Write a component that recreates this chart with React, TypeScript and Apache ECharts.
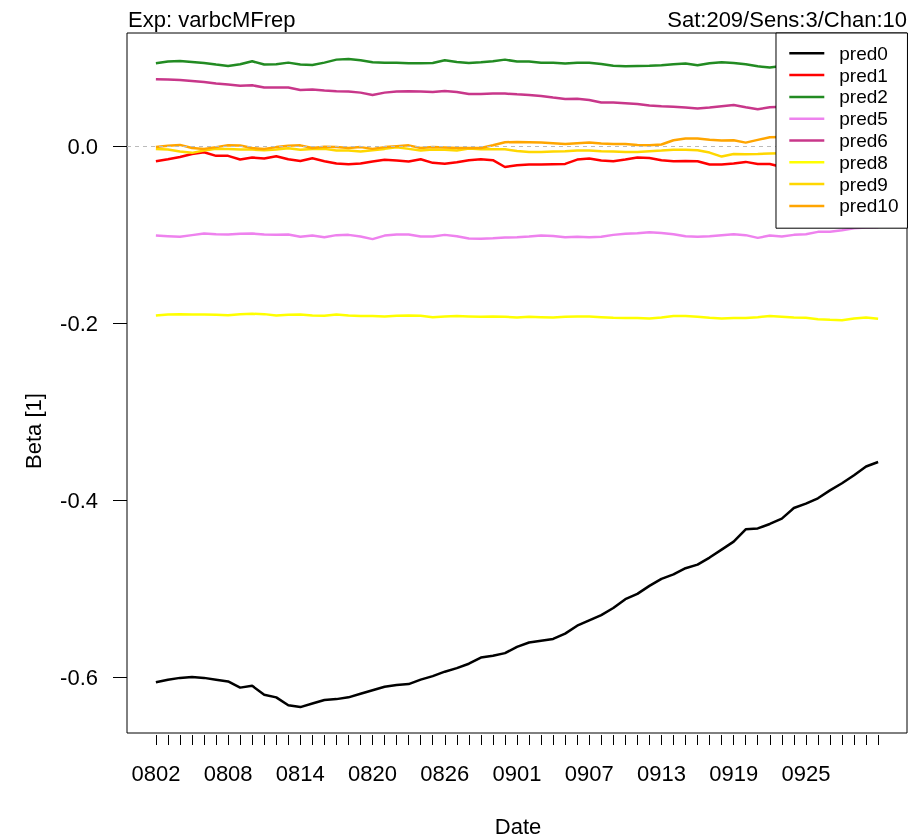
import React, { useEffect, useRef } from "react";
import * as echarts from "echarts";

// Dates (one point per day)
const dates = [
  "0802","0803","0804","0805","0806","0807","0808","0809","0810","0811",
  "0812","0813","0814","0815","0816","0817","0818","0819","0820","0821",
  "0822","0823","0824","0825","0826","0827","0828","0829","0830","0831",
  "0901","0902","0903","0904","0905","0906","0907","0908","0909","0910",
  "0911","0912","0913","0914","0915","0916","0917","0918","0919","0920",
  "0921","0922","0923","0924","0925","0926","0927","0928","0929","0930",
  "1001",
];
const xLabelIdx = [0, 6, 12, 18, 24, 30, 36, 42, 48, 54];
const yTicks = [-0.6, -0.4, -0.2, 0.0];
const yTickLabels = ["-0.6", "-0.4", "-0.2", "0.0"];

const pred0 = [
  -0.606, -0.603, -0.601, -0.600, -0.601, -0.603, -0.605, -0.612, -0.610, -0.620,
  -0.623, -0.632, -0.634, -0.630, -0.626, -0.625, -0.623, -0.619, -0.615, -0.611,
  -0.609, -0.608, -0.603, -0.599, -0.594, -0.590, -0.585, -0.578, -0.576, -0.573,
  -0.566, -0.561, -0.559, -0.557, -0.551, -0.542, -0.536, -0.530, -0.522, -0.512,
  -0.506, -0.497, -0.489, -0.484, -0.477, -0.473, -0.465, -0.456, -0.447, -0.433,
  -0.432, -0.427, -0.421, -0.409, -0.404, -0.398, -0.389, -0.381, -0.372, -0.362,
  -0.357,
];
const pred1 = [
  -0.0169, -0.0147, -0.0121, -0.0087, -0.0068, -0.0109, -0.0109, -0.015, -0.0128, -0.0139,
  -0.0113, -0.0147, -0.0166, -0.0136, -0.0169, -0.0196, -0.0203, -0.0196, -0.0173, -0.0154,
  -0.0162, -0.0173, -0.0147, -0.0188, -0.0199, -0.0181, -0.0158, -0.0147, -0.0158, -0.0235,
  -0.0215, -0.0207, -0.0207, -0.0203, -0.02, -0.0151, -0.0139, -0.0162, -0.0169, -0.0151,
  -0.0128, -0.0132, -0.0158, -0.0169, -0.0166, -0.0169, -0.0207, -0.0207, -0.0196, -0.0177,
  -0.02, -0.02, -0.0234, -0.0225, -0.022, -0.0215, -0.021, -0.0222, -0.0218, -0.0212,
  -0.0215,
];
const pred2 = [
  0.0938, 0.0957, 0.0964, 0.0953, 0.0941, 0.0923, 0.0908, 0.0926, 0.096, 0.0923,
  0.0926, 0.0945, 0.0923, 0.0919, 0.0945, 0.0979, 0.0987, 0.0972, 0.0949, 0.0945,
  0.0945, 0.0938, 0.0938, 0.0941, 0.0972, 0.0953, 0.0941, 0.0949, 0.096, 0.0979,
  0.0957, 0.0957, 0.0945, 0.0945, 0.0934, 0.0945, 0.0945, 0.093, 0.0911, 0.0904,
  0.0908, 0.0911, 0.0915, 0.0926, 0.0934, 0.0915, 0.0938, 0.0949, 0.0941, 0.0926,
  0.0904, 0.0889, 0.0908, 0.0905, 0.091, 0.0902, 0.0895, 0.09, 0.0908, 0.0898,
  0.0902,
];
const pred5 = [
  -0.101, -0.1017, -0.1024, -0.1005, -0.0987, -0.0994, -0.0998, -0.099, -0.0987, -0.0998,
  -0.1002, -0.0998, -0.1024, -0.101, -0.1028, -0.1005, -0.1002, -0.102, -0.105, -0.101,
  -0.0998, -0.0998, -0.102, -0.102, -0.1002, -0.1017, -0.1043, -0.1047, -0.104, -0.1032,
  -0.1028, -0.102, -0.101, -0.1014, -0.1028, -0.1024, -0.1028, -0.1024, -0.1002, -0.099,
  -0.0983, -0.0972, -0.098, -0.0994, -0.1017, -0.1024, -0.1017, -0.1005, -0.0994, -0.1005,
  -0.1036, -0.101, -0.102, -0.1002, -0.0994, -0.0968, -0.0968, -0.095, -0.0927, -0.092,
  -0.0915,
];
const pred6 = [
  0.0757, 0.0753, 0.0749, 0.0738, 0.0727, 0.0708, 0.0697, 0.0685, 0.0689, 0.0663,
  0.0663, 0.0663, 0.0636, 0.064, 0.0629, 0.0621, 0.0618, 0.0606, 0.058, 0.0606,
  0.0618, 0.0621, 0.0618, 0.0614, 0.0625, 0.0614, 0.0591, 0.0591, 0.0595, 0.0595,
  0.0587, 0.058, 0.0568, 0.055, 0.0535, 0.0537, 0.0523, 0.0495, 0.0493, 0.0486,
  0.0478, 0.046, 0.0452, 0.0445, 0.0437, 0.0426, 0.0437, 0.0452, 0.0467, 0.0441,
  0.0418, 0.0441, 0.0445, 0.0448, 0.0452, 0.0446, 0.0443, 0.0449, 0.0455, 0.0451,
  0.0447,
];
const pred8 = [
  -0.1913, -0.1902, -0.1898, -0.1902, -0.1902, -0.1906, -0.191, -0.1898, -0.1894, -0.1898,
  -0.1913, -0.1906, -0.1902, -0.1913, -0.1917, -0.1902, -0.1913, -0.192, -0.192, -0.1924,
  -0.1917, -0.1913, -0.1917, -0.1932, -0.1924, -0.192, -0.1924, -0.1928, -0.1924, -0.1928,
  -0.1936, -0.1928, -0.1932, -0.1936, -0.1928, -0.1924, -0.1924, -0.1932, -0.194, -0.1943,
  -0.1943, -0.1947, -0.1936, -0.192, -0.192, -0.1928, -0.194, -0.1947, -0.1943, -0.1943,
  -0.1932, -0.192, -0.1928, -0.1936, -0.194, -0.1955, -0.1962, -0.1966, -0.1947, -0.1936,
  -0.1951,
];
const pred9 = [
  -0.003, -0.0038, -0.006, -0.0075, -0.0049, -0.003, -0.003, -0.0038, -0.0038, -0.0045,
  -0.0038, -0.0023, -0.0041, -0.003, -0.003, -0.0049, -0.0049, -0.006, -0.0045, -0.003,
  -0.0011, -0.003, -0.0049, -0.0038, -0.0041, -0.0049, -0.0026, -0.0034, -0.0034, -0.0034,
  -0.0053, -0.0064, -0.0064, -0.006, -0.0056, -0.0049, -0.0049, -0.0056, -0.006, -0.0064,
  -0.0064, -0.0056, -0.0049, -0.0041, -0.0041, -0.0045, -0.0072, -0.0117, -0.0087, -0.009,
  -0.0087, -0.0083, -0.0079, -0.0076, -0.0074, -0.0078, -0.0072, -0.007, -0.0073, -0.0068,
  -0.007,
];
const pred10 = [
  -0.001, 0.0005, 0.0015, -0.002, -0.003, -0.001, 0.001, 0.0008, -0.002, -0.003,
  -0.001, 0.0005, 0.001, -0.002, -0.0005, -0.001, -0.002, -0.001, -0.003, -0.001,
  0.0, 0.001, -0.002, -0.001, -0.0015, -0.002, -0.002, -0.0019, 0.0011, 0.0045,
  0.0049, 0.0045, 0.0041, 0.0034, 0.0026, 0.0034, 0.0041, 0.003, 0.0026, 0.0026,
  0.0015, 0.0011, 0.0019, 0.0068, 0.0087, 0.0087, 0.0072, 0.0064, 0.0068, 0.0041,
  0.0072, 0.0102, 0.0105, 0.0108, 0.0104, 0.011, 0.0106, 0.0101, 0.0107, 0.0103,
  0.0105,
];

const seriesNames = ["pred0", "pred1", "pred2", "pred5", "pred6", "pred8", "pred9", "pred10"];
const seriesColors = ["#000000", "#FF0000", "#228B22", "#EE82EE", "#C8378A", "#FFFF00", "#FFD700", "#FFA500"];
const seriesValues = [pred0, pred1, pred2, pred5, pred6, pred8, pred9, pred10];

const titleLeft = "Exp: varbcMFrep";
const titleRight = "Sat:209/Sens:3/Chan:10";
const xName = "Date";
const yName = "Beta [1]";

export default function App() {
  const ref = useRef<HTMLDivElement>(null);
  useEffect(() => {
    if (!ref.current) return;
    const chart = echarts.init(ref.current, null, { renderer: "svg" });
    const font = "'Liberation Sans', Arial, Helvetica, sans-serif";
    const series: any[] = seriesValues.map((vals, k) => {
      const s: any = {
        name: seriesNames[k],
        type: "line",
        data: vals.map((v, i) => [i, v]),
        symbol: "none",
        showSymbol: false,
        color: seriesColors[k],
        lineStyle: { width: 2.5, color: seriesColors[k] },
        silent: true,
        z: 3,
      };
      if (k === 0) {
        s.markLine = {
          silent: true,
          symbol: ["none", "none"],
          label: { show: false },
          lineStyle: { color: "#BBBBBB", type: [4, 4], width: 1 },
          data: [{ yAxis: 0 }],
        };
      }
      return s;
    });
    chart.setOption({
      animation: false,
      textStyle: { fontFamily: font },
      grid: {
        left: 127,
        top: 33,
        width: 780,
        height: 700,
        show: true,
        borderColor: "#000",
        borderWidth: 1,
        backgroundColor: "transparent",
      },
      xAxis: {
        type: "value",
        min: -2.4,
        max: 62.4,
        offset: 2,
        axisLine: { show: false, onZero: false },
        splitLine: { show: false },
        axisTick: {
          show: true,
          length: 10,
          lineStyle: { color: "#000", width: 1 },
          customValues: dates.map((_, i) => i),
        },
        axisLabel: {
          show: true,
          customValues: xLabelIdx,
          formatter: (v: number) => dates[Math.round(v)] ?? "",
          fontSize: 22,
          color: "#000",
          margin: 27,
          fontFamily: font,
        },
      },
      yAxis: {
        type: "value",
        min: -0.6633,
        max: 0.128,
        axisLine: { show: false, onZero: false },
        splitLine: { show: false },
        axisTick: {
          show: true,
          length: 14,
          lineStyle: { color: "#000", width: 1 },
          customValues: yTicks,
        },
        axisLabel: {
          show: true,
          customValues: yTicks,
          formatter: (v: number) => {
            const idx = yTicks.findIndex((t) => Math.abs(t - v) < 1e-9);
            return idx >= 0 ? yTickLabels[idx] : "";
          },
          fontSize: 22,
          color: "#000",
          margin: 29,
          fontFamily: font,
        },
      },
      legend: {
        data: seriesNames,
        orient: "vertical",
        left: 776,
        top: 33,
        icon: "rect",
        itemWidth: 35,
        itemHeight: 2.5,
        itemGap: 0,
        padding: [9.4, 9, 11.4, 13.3],
        backgroundColor: "#ffffff",
        borderColor: "#000",
        borderWidth: 1,
        borderRadius: 0,
        selectedMode: false,
        z: 10,
        textStyle: {
          fontSize: 19,
          color: "#000",
          fontFamily: font,
          lineHeight: 21.8,
          padding: [0, 0, 0, 10],
        },
      },
      graphic: [
        {
          type: "text",
          x: 128,
          y: 19,
          style: { text: titleLeft, fontSize: 22, fontFamily: font, fill: "#000", align: "left", verticalAlign: "middle" },
        },
        {
          type: "text",
          x: 907,
          y: 19,
          style: { text: titleRight, fontSize: 22, fontFamily: font, fill: "#000", align: "right", verticalAlign: "middle" },
        },
        {
          type: "text",
          x: 518,
          y: 826,
          style: { text: xName, fontSize: 22, fontFamily: font, fill: "#000", align: "center", verticalAlign: "middle" },
        },
        {
          type: "text",
          x: 33,
          y: 431,
          rotation: Math.PI / 2,
          style: { text: yName, fontSize: 22, fontFamily: font, fill: "#000", align: "center", verticalAlign: "middle" },
        },
      ],
      series,
    });
    return () => chart.dispose();
  }, []);
  return <div ref={ref} style={{ position: "fixed", left: 0, top: 0, width: 924, height: 837 }} />;
}
